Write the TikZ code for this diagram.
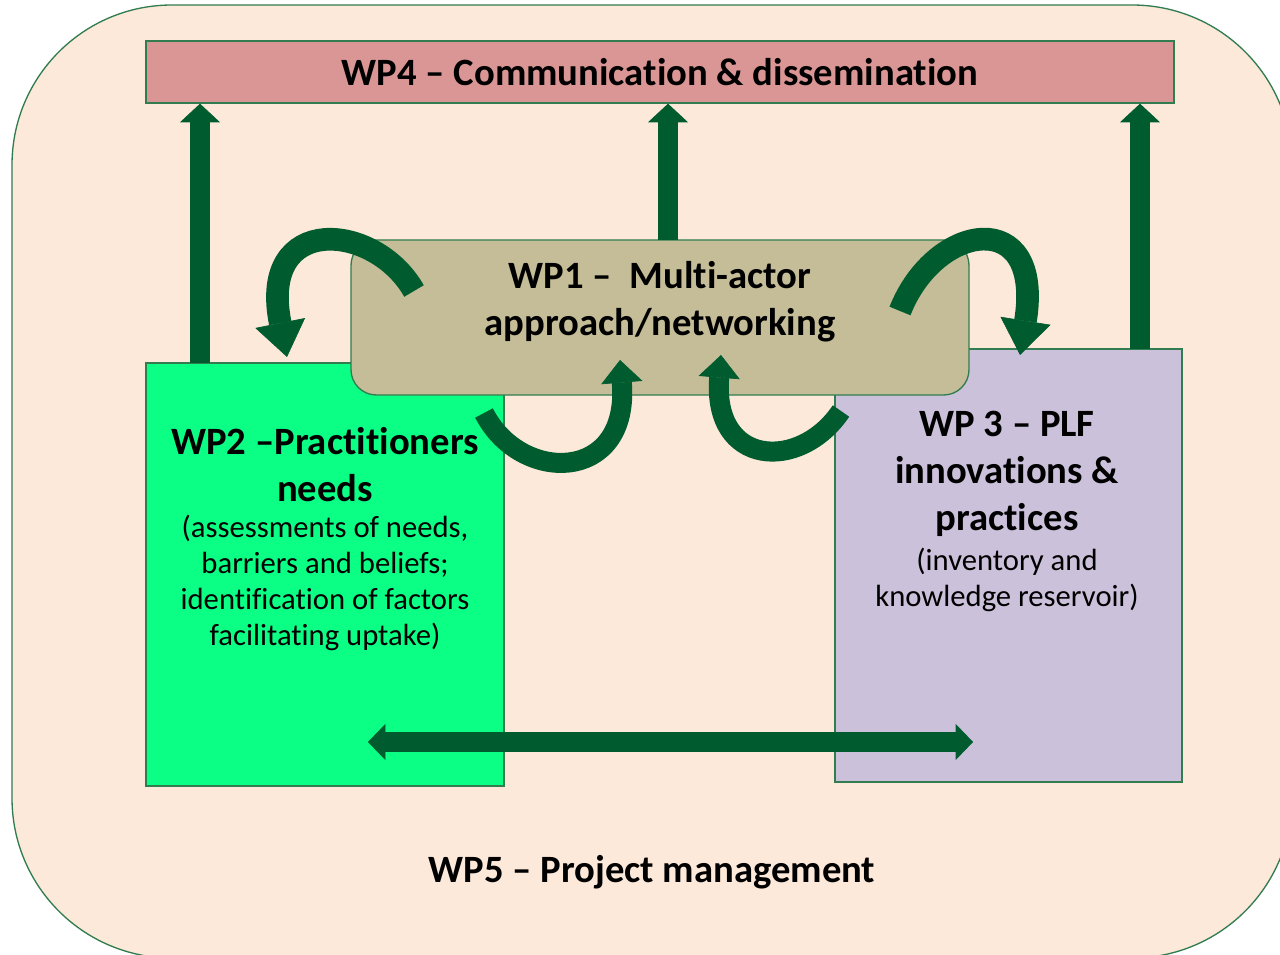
\documentclass[tikz,border=0pt]{standalone}
\usepackage{fontspec}
\setmainfont[Ligatures=NoCommon]{Carlito}
\usetikzlibrary{arrows.meta}

\definecolor{wpfive}{RGB}{253,233,217}
\definecolor{wpfour}{RGB}{217,150,148}
\definecolor{wpone}{RGB}{196,189,151}
\definecolor{wptwo}{RGB}{10,255,132}
\definecolor{wpthree}{RGB}{204,193,218}
\definecolor{boxline}{RGB}{49,125,80}
\definecolor{arrowgreen}{RGB}{0,92,46}

\tikzset{every picture/.style={line width=0.75pt}}

\begin{document}
\begin{tikzpicture}[x=0.75pt,y=0.75pt,yscale=-1,xscale=1,
  wpbox/.style={draw=boxline, line width=1pt, inner sep=0pt},
  boldtxt/.style={font=\fontsize{29}{35}\selectfont\bfseries, align=center, inner sep=0.75pt},
  plaintxt/.style={font=\fontsize{23}{27}\selectfont, align=center, inner sep=0.75pt},
  uparrow/.style={draw=arrowgreen, line width=15pt, -{Triangle[width=30pt,length=14pt,line width=0.5pt]}},
  bothways/.style={draw=arrowgreen, line width=15pt, {Triangle[width=27pt,length=13pt,line width=0.5pt]}-{Triangle[width=27pt,length=13pt,line width=0.5pt]}},
  bigbend/.style={draw=arrowgreen, line width=17pt, -{Triangle[width=38pt,length=26pt,line width=0.5pt]}},
  smallbend/.style={draw=arrowgreen, line width=15pt, -{Triangle[width=31pt,length=17pt,line width=0.5pt]}}]
\useasboundingbox (0,0) rectangle (1280,955);
\clip (0,0) rectangle (1280,955);

%Rounded Rect [WP5]
\node[wpbox, fill=wpfive, rounded corners=120pt, minimum width=960pt, minimum height=714.75pt] (wp5) at (652,481.5) {};
%Shape: Rectangle [WP4]
\node[wpbox, fill=wpfour, minimum width=771pt, minimum height=46.5pt] (wp4) at (660,72) {};
%Shape: Rectangle [WP2]
\node[wpbox, fill=wptwo, minimum width=268.5pt, minimum height=317.25pt] (wp2) at (325,574.5) {};
%Shape: Rectangle [WP3]
\node[wpbox, fill=wpthree, minimum width=260.25pt, minimum height=324.75pt] (wp3) at (1008.5,565.5) {};
%Rounded Rect [WP1]
\node[wpbox, fill=wpone, rounded corners=19pt, minimum width=463.5pt, minimum height=116.25pt] (wp1) at (660,317.5) {};

%Up Arrows
\coordinate (up2) at (200,363);
\coordinate (up1) at (668,240);
\coordinate (up3) at (1140,349);
\draw [uparrow] (up2) -- (up2 |- wp4.south);
\draw [uparrow] (up1) -- (up1 |- wp4.south);
\draw [uparrow] (up3) -- (up3 |- wp4.south);

%Left Right Arrow
\coordinate (lr2) at (368,742);
\coordinate (lr3) at (973,742);
\draw [bothways] (lr2) -- (lr3);

%Curved Arrows
\coordinate (ta) at (414,291);
\coordinate (ha) at (287,357);
\coordinate (tb) at (900,311);
\coordinate (hb) at (1020,355);
\coordinate (tc) at (484,413);
\coordinate (hc) at (620,360);
\coordinate (td) at (841,411);
\coordinate (hd) at (721,355);
\draw [bigbend] (ta) .. controls (375,222) and (258,212) .. (ha);
\draw [bigbend] (tb) .. controls (935,222) and (1044,205) .. (hb);
\draw [smallbend] (tc) .. controls (520,484) and (630,484) .. (hc);
\draw [smallbend] (td) .. controls (800,472) and (712,467) .. (hd);

% Text Node
\node [boldtxt] (t4) at (660,72) {WP4 – Communication \& dissemination};
% Text Node
\node [boldtxt] (t1) at (660,301.5) {WP1 –\ \ Multi-actor\\approach/networking};
% Text Node
\node [boldtxt] (t2) at (325,464.5) {WP2 –Practitioners\\needs};
% Text Node
\node [plaintxt] (s2) at (325,583) {(assessments of needs,\\barriers and beliefs;\\identification of factors\\facilitating uptake)};
% Text Node
\node [boldtxt] (t3) at (1007,474) {WP 3 – PLF\\innovations \&\\practices};
% Text Node
\node [plaintxt] (s3) at (1007,579.5) {(inventory and\\knowledge reservoir)};
% Text Node
\node [boldtxt] (t5) at (652,872) {WP5 – Project management};

\end{tikzpicture}
\end{document}
